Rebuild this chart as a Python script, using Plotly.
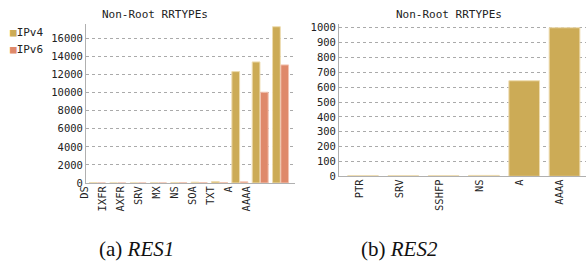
import plotly.graph_objects as go

# ---- data ----
cats_res1 = ["DS", "IXFR", "AXFR", "SRV", "MX", "NS", "SOA", "TXT", "A", "AAAA"]
res1_ipv4 = [40, 10, 10, 25, 40, 90, 150, 12330, 13400, 17300]
res1_ipv6 = [10, 5, 5, 10, 30, 40, 50, 130, 10050, 13070]

cats_res2 = ["PTR", "SRV", "SSHFP", "NS", "A", "AAAA"]
res2_ipv4 = [4, 4, 4, 6, 643, 1000]

y1_ticks = list(range(0, 16001, 2000))
y2_ticks = list(range(0, 1001, 100))

series_names = ["IPv4", "IPv6"]

C4 = "#ccab56"
C6 = "#df896a"
W, H = 587, 261
MONO = "DejaVu Sans Mono"


def px_x(p):
    return p / W


def px_y(p):
    return (H - p) / H


fig = go.Figure()

# RES1 bars
fig.add_trace(go.Bar(x=cats_res1, y=res1_ipv4, name=series_names[0],
                     marker=dict(color=C4, line=dict(color="#eedcb0", width=1)),
                     xaxis="x", yaxis="y", showlegend=False))
fig.add_trace(go.Bar(x=cats_res1, y=res1_ipv6, name=series_names[1],
                     marker=dict(color=C6, line=dict(color="#f2c4b2", width=1)),
                     xaxis="x", yaxis="y", showlegend=False))
# RES2 bars
fig.add_trace(go.Bar(x=cats_res2, y=res2_ipv4, name=series_names[0],
                     marker=dict(color=C4, line=dict(color="#eedcb0", width=1)),
                     xaxis="x2", yaxis="y2", showlegend=False))

# label axes (tick labels carried by empty traces)
fig.add_trace(go.Scatter(x=cats_res1, y=[None] * len(cats_res1), xaxis="x3", yaxis="y3",
                         mode="markers", showlegend=False, hoverinfo="skip"))
fig.add_trace(go.Scatter(x=cats_res2, y=[None] * len(cats_res2), xaxis="x4", yaxis="y2",
                         mode="markers", showlegend=False, hoverinfo="skip"))

grid = dict(showgrid=True, gridcolor="#aaaaaa", griddash="dot", gridwidth=1)
yfont = dict(family=MONO, size=10.5, color="#222")

y1_dom = [px_y(183), px_y(24)]
y2_dom = [px_y(176.3), px_y(24.3)]

legend_ann = []
for i, (nm, col) in enumerate(zip(series_names, [C4, C6])):
    legend_ann.append(dict(text=f'<span style="color:{col}">■</span>{nm}', x=px_x(8), y=px_y(33 + 16 * i),
                           xref="paper", yref="paper", xanchor="left", yanchor="middle", showarrow=False,
                           font=dict(family=MONO, size=11, color="#222")))


def ann(text, x, y, font):
    return dict(text=text, x=px_x(x), y=px_y(y), xref="paper", yref="paper",
                xanchor="center", yanchor="middle", showarrow=False, font=font)


title_font = dict(family=MONO, size=11, color="#222")
cap_font = dict(family="Liberation Serif", size=21, color="#111")

fig.update_layout(
    width=W, height=H,
    margin=dict(l=0, r=0, t=0, b=0, autoexpand=False),
    paper_bgcolor="white", plot_bgcolor="rgba(0,0,0,0)",
    showlegend=False,
    barmode="group", bargap=0.19, bargroupgap=0.06,
    font=dict(family=MONO, size=10.5, color="#222"),
    xaxis=dict(domain=[px_x(86), px_x(295)], anchor="y", type="category", automargin=False,
               range=[-0.56, 9.71], showticklabels=False, ticks="",
               showline=True, linecolor="#b0b0b0", linewidth=1, showgrid=False, zeroline=False),
    yaxis=dict(domain=y1_dom, anchor="x", range=[0, 17600], tickvals=y1_ticks, tickformat="d",
               automargin=False, showline=True, linecolor="#b0b0b0", linewidth=1, ticks="",
               tickfont=yfont, zeroline=False, **grid),
    xaxis3=dict(domain=[px_x(80), px_x(295)], anchor="y3", type="category", automargin=False,
                categoryorder="array", categoryarray=cats_res1,
                range=[-0.278, 11.667], tickangle=-90, ticks="", showline=False,
                showgrid=False, zeroline=False, tickfont=yfont),
    yaxis3=dict(domain=y1_dom, anchor="x3", visible=False, showgrid=False, range=[0, 1], automargin=False),
    xaxis2=dict(domain=[px_x(339), px_x(586)], anchor="y2", type="category", automargin=False,
                range=[-0.5955, 5.533], showticklabels=False, ticks="",
                showline=True, linecolor="#b0b0b0", linewidth=1, showgrid=False, zeroline=False),
    yaxis2=dict(domain=y2_dom, anchor="x2", range=[0, 1023], tickvals=y2_ticks, tickformat="d",
                automargin=False, showline=True, linecolor="#b0b0b0", linewidth=1, ticks="",
                tickfont=yfont, zeroline=False, **grid),
    xaxis4=dict(overlaying="x2", anchor="y2", type="category", automargin=False,
                categoryorder="array", categoryarray=cats_res2,
                range=[-0.525, 5.65], tickangle=-90, ticks="", showline=False,
                showgrid=False, zeroline=False, tickfont=yfont),
    annotations=legend_ann + [
        ann("Non-Root RRTYPEs", 155, 14, title_font),
        ann("Non-Root RRTYPEs", 449, 14, title_font),
        ann("(a) <i>RES1</i>", 136, 249, cap_font),
        ann("(b) <i>RES2</i>", 399, 249, cap_font),
    ],
)

fig.write_html("out.html", post_script="document.body.style.margin='0';",
               config={"displayModeBar": False})
